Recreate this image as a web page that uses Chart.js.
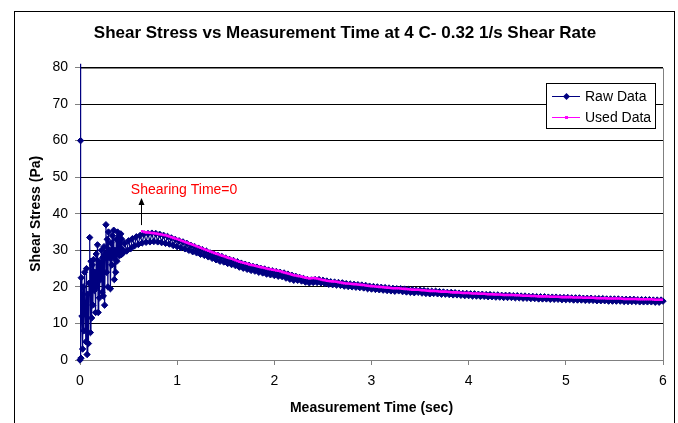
<!DOCTYPE html>
<html>
<head>
<meta charset="utf-8">
<script src="https://cdn.jsdelivr.net/npm/chart.js"></script>
<style>
  html, body { margin: 0; padding: 0; background: #fff; }
  canvas { display: block; }
</style>
</head>
<body>
<canvas id="chart" width="678" height="423"></canvas>
<script>
// Start-up transient of the rheometer run (s, Pa)
const startupTime = [
  0, 0.003, 0.006, 0.01, 0.013, 0.02, 0.027, 0.033, 0.04, 0.047,
  0.053, 0.06, 0.067, 0.073, 0.08, 0.087, 0.093, 0.1, 0.107, 0.113,
  0.12, 0.127, 0.133, 0.14, 0.147, 0.153, 0.16, 0.167, 0.173, 0.18,
  0.187, 0.193, 0.2, 0.207, 0.213, 0.22, 0.227, 0.233, 0.24, 0.247,
  0.253, 0.26, 0.267, 0.273, 0.28, 0.287, 0.293, 0.3, 0.307, 0.313,
  0.32, 0.327, 0.333, 0.34, 0.347, 0.353, 0.36, 0.367, 0.373, 0.38,
  0.387, 0.393, 0.4, 0.405, 0.41, 0.415, 0.42, 0.425, 0.43, 0.435
];
const startupStress = [
  0, 81, 60, 0.5, 22.5, 12, 3, 20, 8, 24,
  14, 5, 25, 1.5, 18, 4.5, 21, 33.5, 7.5, 27,
  11.5, 26, 15, 27.5, 19, 24, 13, 29, 20, 31.5,
  13, 27, 17, 26.5, 22, 30, 18.5, 28, 17.5, 31,
  15, 29, 37, 24, 33, 20, 35, 28, 30, 19.5,
  32, 26, 34, 28, 35.5, 22, 30, 24, 33, 27,
  35, 29, 34, 28.5, 33.5, 30, 34.5, 28.8, 33, 30.2
];

// Regular sampling after the start-up (s)
const rawTime = [
  0.44, 0.46, 0.48, 0.50, 0.52, 0.54, 0.56, 0.58, 0.60, 0.62,
  0.64, 0.66, 0.68, 0.70, 0.72, 0.74, 0.76, 0.78, 0.80, 0.82,
  0.84, 0.86, 0.88, 0.90, 0.92, 0.94, 0.96, 0.98, 1.00, 1.02,
  1.04, 1.06, 1.08, 1.10, 1.12, 1.14, 1.16, 1.18, 1.20, 1.22,
  1.24, 1.26, 1.28, 1.30, 1.32, 1.34, 1.36, 1.38, 1.40, 1.42,
  1.44, 1.46, 1.48, 1.50, 1.52, 1.54, 1.56, 1.58, 1.60, 1.62,
  1.64, 1.66, 1.68, 1.70, 1.72, 1.74, 1.76, 1.78, 1.80, 1.82,
  1.84, 1.86, 1.88, 1.90, 1.92, 1.94, 1.96, 1.98, 2.00, 2.02,
  2.04, 2.06, 2.08, 2.10, 2.12, 2.14, 2.16, 2.18, 2.20, 2.22,
  2.24, 2.26, 2.28, 2.30, 2.32, 2.34, 2.36, 2.38, 2.40, 2.42,
  2.44, 2.46, 2.48, 2.50, 2.52, 2.54, 2.56, 2.58, 2.60, 2.62,
  2.64, 2.66, 2.68, 2.70, 2.72, 2.74, 2.76, 2.78, 2.80, 2.82,
  2.84, 2.86, 2.88, 2.90, 2.92, 2.94, 2.96, 2.98, 3.00, 3.02,
  3.04, 3.06, 3.08, 3.10, 3.12, 3.14, 3.16, 3.18, 3.20, 3.22,
  3.24, 3.26, 3.28, 3.30, 3.32, 3.34, 3.36, 3.38, 3.40, 3.42,
  3.44, 3.46, 3.48, 3.50, 3.52, 3.54, 3.56, 3.58, 3.60, 3.62,
  3.64, 3.66, 3.68, 3.70, 3.72, 3.74, 3.76, 3.78, 3.80, 3.82,
  3.84, 3.86, 3.88, 3.90, 3.92, 3.94, 3.96, 3.98, 4.00, 4.02,
  4.04, 4.06, 4.08, 4.10, 4.12, 4.14, 4.16, 4.18, 4.20, 4.22,
  4.24, 4.26, 4.28, 4.30, 4.32, 4.34, 4.36, 4.38, 4.40, 4.42,
  4.44, 4.46, 4.48, 4.50, 4.52, 4.54, 4.56, 4.58, 4.60, 4.62,
  4.64, 4.66, 4.68, 4.70, 4.72, 4.74, 4.76, 4.78, 4.80, 4.82,
  4.84, 4.86, 4.88, 4.90, 4.92, 4.94, 4.96, 4.98, 5.00, 5.02,
  5.04, 5.06, 5.08, 5.10, 5.12, 5.14, 5.16, 5.18, 5.20, 5.22,
  5.24, 5.26, 5.28, 5.30, 5.32, 5.34, 5.36, 5.38, 5.40, 5.42,
  5.44, 5.46, 5.48, 5.50, 5.52, 5.54, 5.56, 5.58, 5.60, 5.62,
  5.64, 5.66, 5.68, 5.70, 5.72, 5.74, 5.76, 5.78, 5.80, 5.82,
  5.84, 5.86, 5.88, 5.90, 5.92, 5.94, 5.96, 5.98, 6.00
];
// Raw shear stress (Pa)
const rawStress = [
  29.2, 31.9, 29.8, 32.6, 30.4, 33.2, 31.2, 33.7, 31.6, 34.1,
  32.0, 34.5, 32.2, 34.6, 32.3, 34.7, 32.4, 34.6, 32.3, 34.4,
  32.1, 34.1, 31.9, 33.8, 31.7, 33.4, 31.3, 33.0, 31.0, 32.6,
  30.7, 32.3, 30.4, 31.9, 30.0, 31.4, 29.6, 31.0, 29.3, 30.6,
  28.9, 30.2, 28.6, 29.8, 28.2, 29.3, 27.8, 28.9, 27.4, 28.6,
  27.0, 28.3, 26.8, 27.9, 26.4, 27.5, 26.1, 27.2, 25.8, 26.9,
  25.4, 26.5, 25.1, 26.2, 24.8, 25.9, 24.5, 25.6, 24.3, 25.4,
  24.0, 25.1, 23.8, 24.9, 23.5, 24.6, 23.3, 24.4, 23.1, 24.2,
  22.9, 24.0, 22.8, 23.8, 22.4, 23.5, 22.1, 23.2, 21.8, 22.9,
  21.8, 22.6, 21.6, 22.3, 21.3, 22.0, 21.1, 21.9, 21.2, 22.0,
  21.2, 22.0, 21.1, 21.8, 20.9, 21.6, 20.7, 21.4, 20.6, 21.3,
  20.5, 21.2, 20.4, 21.1, 20.2, 20.9, 20.1, 20.8, 20.0, 20.7,
  19.9, 20.6, 19.8, 20.5, 19.7, 20.4, 19.5, 20.2, 19.4, 20.1,
  19.3, 20.0, 19.2, 19.9, 19.1, 19.8, 19.0, 19.7, 18.9, 19.6,
  18.8, 19.5, 18.9, 19.5, 18.7, 19.4, 18.6, 19.3, 18.5, 19.2,
  18.4, 19.1, 18.5, 19.1, 18.3, 19.0, 18.2, 18.9, 18.1, 18.8,
  18.2, 18.8, 18.1, 18.7, 18.0, 18.6, 18.0, 18.5, 17.9, 18.5,
  17.8, 18.4, 17.8, 18.3, 17.7, 18.2, 17.6, 18.2, 17.6, 18.1,
  17.5, 18.1, 17.5, 18.0, 17.4, 18.0, 17.4, 17.9, 17.3, 17.9,
  17.3, 17.8, 17.2, 17.8, 17.2, 17.7, 17.1, 17.7, 17.1, 17.7,
  17.1, 17.6, 17.0, 17.6, 17.0, 17.5, 16.9, 17.5, 16.9, 17.4,
  16.8, 17.4, 16.8, 17.3, 16.7, 17.3, 16.7, 17.3, 16.7, 17.2,
  16.6, 17.2, 16.6, 17.2, 16.6, 17.1, 16.5, 17.1, 16.5, 17.1,
  16.5, 17.0, 16.4, 17.0, 16.4, 17.0, 16.4, 16.9, 16.3, 16.9,
  16.3, 16.9, 16.3, 16.8, 16.2, 16.8, 16.2, 16.8, 16.2, 16.7,
  16.1, 16.7, 16.1, 16.7, 16.1, 16.7, 16.1, 16.6, 16.0, 16.6,
  16.0, 16.6, 16.0, 16.6, 16.0, 16.5, 15.9, 16.5, 15.9, 16.5,
  15.9, 16.5, 15.9, 16.4, 15.8, 16.4, 15.8, 16.4, 16.1
];

// Shear stress kept for analysis, from the start of shearing (Pa)
const usedStartTime = 0.64;
const usedStress = [
  35.2, 35.0, 34.9, 34.85, 34.8, 34.75, 34.7, 34.6, 34.5, 34.4,
  34.3, 34.2, 34.1, 33.95, 33.8, 33.6, 33.4, 33.25, 33.1, 32.9,
  32.7, 32.5, 32.3, 32.1, 31.9, 31.7, 31.5, 31.3, 31.1, 30.9,
  30.7, 30.5, 30.3, 30.1, 29.9, 29.7, 29.5, 29.3, 29.1, 28.9,
  28.7, 28.55, 28.4, 28.2, 28.0, 27.85, 27.7, 27.5, 27.3, 27.1,
  26.9, 26.75, 26.6, 26.45, 26.3, 26.15, 26.0, 25.9, 25.8, 25.65,
  25.5, 25.4, 25.3, 25.15, 25.0, 24.9, 24.8, 24.7, 24.6, 24.5,
  24.4, 24.25, 24.1, 23.95, 23.8, 23.65, 23.5, 23.35, 23.2, 23.1,
  23.0, 22.9, 22.8, 22.65, 22.5, 22.4, 22.3, 22.35, 22.4, 22.35,
  22.3, 22.15, 22.0, 21.9, 21.8, 21.7, 21.6, 21.55, 21.5, 21.45,
  21.4, 21.3, 21.2, 21.1, 21.0, 20.95, 20.9, 20.85, 20.8, 20.75,
  20.7, 20.65, 20.6, 20.55, 20.5, 20.4, 20.3, 20.25, 20.2, 20.15,
  20.1, 20.05, 20.0, 19.95, 19.9, 19.85, 19.8, 19.75, 19.7, 19.65,
  19.6, 19.6, 19.6, 19.55, 19.5, 19.45, 19.4, 19.35, 19.3, 19.25,
  19.2, 19.2, 19.2, 19.15, 19.1, 19.05, 19.0, 18.95, 18.9, 18.9,
  18.9, 18.85, 18.8, 18.75, 18.7, 18.7, 18.7, 18.65, 18.6, 18.55,
  18.5, 18.5, 18.5, 18.45, 18.4, 18.35, 18.3, 18.3, 18.3, 18.25,
  18.2, 18.2, 18.2, 18.15, 18.1, 18.1, 18.1, 18.05, 18.0, 18.0,
  18.0, 17.95, 17.9, 17.9, 17.9, 17.85, 17.8, 17.8, 17.8, 17.8,
  17.8, 17.75, 17.7, 17.7, 17.7, 17.65, 17.6, 17.6, 17.6, 17.55,
  17.5, 17.5, 17.5, 17.45, 17.4, 17.4, 17.4, 17.4, 17.4, 17.35,
  17.3, 17.3, 17.3, 17.3, 17.3, 17.25, 17.2, 17.2, 17.2, 17.2,
  17.2, 17.15, 17.1, 17.1, 17.1, 17.1, 17.1, 17.05, 17.0, 17.0,
  17.0, 17.0, 17.0, 16.95, 16.9, 16.9, 16.9, 16.9, 16.9, 16.85,
  16.8, 16.8, 16.8, 16.8, 16.8, 16.8, 16.8, 16.75, 16.7, 16.7,
  16.7, 16.7, 16.7, 16.7, 16.7, 16.65, 16.6, 16.6, 16.6, 16.6,
  16.6, 16.6, 16.6, 16.55, 16.5, 16.5, 16.5, 16.5, 16.5
];

const xTickValues = [0, 1, 2, 3, 4, 5, 6];
const yTickValues = [0, 10, 20, 30, 40, 50, 60, 70, 80];

const chartTitle = 'Shear Stress vs Measurement Time at 4 C- 0.32 1/s Shear Rate';

// Note marking where shearing starts
const noteText = 'Shearing Time=0';
const noteTime = 0.523, noteStress = 46.4;
const arrowTime = 0.627, arrowFrom = 36.9, arrowTo = 44.3;

const FONT = "'Liberation Sans', Arial, Helvetica, sans-serif";
const NAVY = '#000080';
const MAGENTA = '#FF00FF';

const allTime = startupTime.concat(rawTime);
const allStress = startupStress.concat(rawStress);
const rawPoints = allTime.map((t, i) => ({ x: t, y: allStress[i] }));
const usedTime = rawTime.slice(rawTime.indexOf(usedStartTime));
const usedPoints = usedTime.map((t, i) => ({ x: t, y: usedStress[i] }));

function diamond(ctx, x, y, r) {
  ctx.beginPath();
  ctx.moveTo(x, y - r);
  ctx.lineTo(x + r, y);
  ctx.lineTo(x, y + r);
  ctx.lineTo(x - r, y);
  ctx.closePath();
  ctx.fill();
}

const framePlugin = {
  id: 'frame',
  beforeDraw(chart) {
    const { ctx, width, height } = chart;
    ctx.save();
    ctx.fillStyle = '#fff';
    ctx.fillRect(0, 0, width, height);
    ctx.restore();
  },
  beforeDatasetsDraw(chart) {
    const { ctx, chartArea: a } = chart;
    const l = Math.round(a.left) + 0.5, t = Math.round(a.top) + 0.5;
    const r = Math.round(a.right) + 0.5, b = Math.round(a.bottom) + 0.5;
    ctx.save();
    ctx.strokeStyle = '#808080';
    ctx.lineWidth = 1;
    ctx.beginPath();
    ctx.moveTo(l, t);
    ctx.lineTo(r, t);
    ctx.lineTo(r, b);
    ctx.stroke();
    ctx.restore();
  },
  afterDraw(chart) {
    const { ctx } = chart;
    ctx.save();
    ctx.strokeStyle = '#000';
    ctx.lineWidth = 1;
    ctx.strokeRect(14.5, 11.5, 660, 420);
    ctx.fillStyle = '#000';
    ctx.font = 'bold 17px ' + FONT;
    ctx.textAlign = 'center';
    ctx.textBaseline = 'middle';
    ctx.fillText(chartTitle, 345, 33);
    ctx.restore();
  }
};

const notePlugin = {
  id: 'note',
  afterDatasetsDraw(chart) {
    const { ctx, scales: { x, y } } = chart;
    const ax = Math.round(x.getPixelForValue(arrowTime)) + 0.5;
    const y0 = y.getPixelForValue(arrowFrom);
    const y1 = y.getPixelForValue(arrowTo);
    ctx.save();
    ctx.strokeStyle = '#000';
    ctx.fillStyle = '#000';
    ctx.lineWidth = 1;
    ctx.beginPath();
    ctx.moveTo(ax, y0);
    ctx.lineTo(ax, y1 + 5);
    ctx.stroke();
    ctx.beginPath();
    ctx.moveTo(ax, y1);
    ctx.lineTo(ax - 3, y1 + 7);
    ctx.lineTo(ax + 3, y1 + 7);
    ctx.closePath();
    ctx.fill();
    ctx.fillStyle = '#FF0000';
    ctx.font = '14px ' + FONT;
    ctx.textAlign = 'left';
    ctx.textBaseline = 'middle';
    ctx.fillText(noteText, x.getPixelForValue(noteTime), y.getPixelForValue(noteStress));
    ctx.restore();
  }
};

const legendPlugin = {
  id: 'boxLegend',
  afterDraw(chart) {
    const { ctx } = chart;
    const bx = 546, by = 83, bw = 109, bh = 45;
    ctx.save();
    ctx.fillStyle = '#fff';
    ctx.fillRect(bx, by, bw, bh);
    ctx.strokeStyle = '#000';
    ctx.lineWidth = 1;
    ctx.strokeRect(bx + 0.5, by + 0.5, bw, bh);
    const items = [chart.data.datasets[1], chart.data.datasets[0]];
    items.forEach((ds, i) => {
      const ry = by + 13.5 + i * 21;
      ctx.strokeStyle = ds.borderColor;
      ctx.lineWidth = 1;
      ctx.beginPath();
      ctx.moveTo(bx + 6, ry);
      ctx.lineTo(bx + 34, ry);
      ctx.stroke();
      ctx.fillStyle = ds.borderColor;
      if (ds.pointStyle === 'rectRot') {
        diamond(ctx, bx + 20.5, ry, 3.5);
      } else {
        ctx.fillRect(bx + 19, ry - 1.5, 3, 3);
      }
      ctx.fillStyle = '#000';
      ctx.font = '14px ' + FONT;
      ctx.textAlign = 'left';
      ctx.textBaseline = 'middle';
      ctx.fillText(ds.label, bx + 39, ry + 0.5);
    });
    ctx.restore();
  }
};

new Chart(document.getElementById('chart'), {
  type: 'line',
  data: {
    datasets: [
      {
        label: 'Used Data',
        data: usedPoints,
        order: 0,
        borderColor: MAGENTA,
        backgroundColor: MAGENTA,
        borderWidth: 1,
        pointStyle: 'rect',
        pointRadius: 1.8,
        pointBorderWidth: 0,
        tension: 0
      },
      {
        label: 'Raw Data',
        data: rawPoints,
        order: 1,
        clip: false,
        borderColor: NAVY,
        backgroundColor: NAVY,
        borderWidth: 1.2,
        pointStyle: 'rectRot',
        pointRadius: (c) => (c.raw && c.raw.y > 80 ? 0 : 3.2),
        pointBorderWidth: 1,
        tension: 0
      }
    ]
  },
  options: {
    responsive: false,
    animation: false,
    events: [],
    devicePixelRatio: 1,
    layout: { padding: { left: 14, right: 15, top: 67.5, bottom: 0 } },
    plugins: {
      legend: { display: false },
      tooltip: { enabled: false },
      title: { display: false }
    },
    scales: {
      x: {
        type: 'linear',
        min: 0,
        max: 6,
        afterBuildTicks: (s) => { s.ticks = xTickValues.map(v => ({ value: v })); },
        afterFit: (s) => { s.height = 63; },
        ticks: { color: '#000', font: { family: FONT, size: 14 }, padding: 8, maxRotation: 0 },
        grid: { drawOnChartArea: false, drawTicks: true, tickLength: 5, color: '#808080', tickColor: '#808080' },
        border: { color: '#808080', width: 1 },
        title: {
          display: true,
          text: 'Measurement Time (sec)',
          color: '#000',
          font: { family: FONT, size: 14, weight: 'bold', lineHeight: 1.2 },
          padding: { top: 0, bottom: 6.6 }
        }
      },
      y: {
        min: 0,
        max: 80,
        afterBuildTicks: (s) => { s.ticks = yTickValues.map(v => ({ value: v })); },
        afterFit: (s) => { s.width = 66; },
        ticks: { color: '#000', font: { family: FONT, size: 14 }, padding: 7 },
        grid: { color: '#000', lineWidth: 1, tickLength: 5, tickColor: '#808080' },
        border: { color: '#808080', width: 1 },
        title: {
          display: true,
          text: 'Shear Stress (Pa)',
          color: '#000',
          font: { family: FONT, size: 14, weight: 'bold', lineHeight: 1.2 },
          padding: { top: 13.6, bottom: 0 }
        }
      }
    }
  },
  plugins: [framePlugin, notePlugin, legendPlugin]
});
</script>
</body>
</html>
